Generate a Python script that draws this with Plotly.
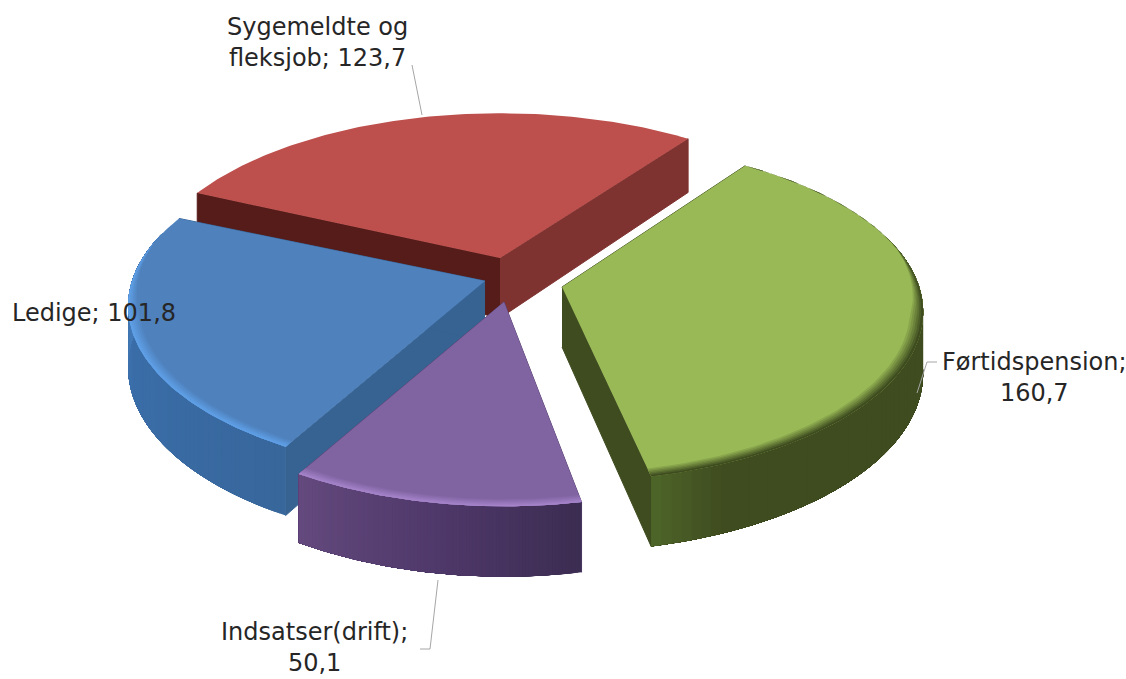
import numpy as np
import plotly.graph_objects as go

categories = ["Sygemeldte og fleksjob", "Førtidspension", "Indsatser(drift)", "Ledige"]
values = [123.7, 160.7, 50.1, 101.8]
label_texts = ["Sygemeldte og<br>fleksjob; 123,7", "Førtidspension;<br>160,7",
               "Indsatser(drift);<br>50,1", "Ledige; 101,8"]

# --- styling / geometry of the tilted, exploded pie ---
FIRST_ANGLE = -65.5      # degrees clockwise from the back of the pie
R_X, R_Y, PERSP, DEPTH = 353, 166, 0.147, 60
centres = [(500, 258), (562, 287), (504, 302), (485, 281)]
nudge_deg = [0, -1.5, 0, -1.0]
scale_x = [1, 1.012, 1, 1]
scale_y = [1, 1, 1.05, 1]
top_col = ["#bd4f4c", "#98b956", "#8064a2", "#4f81bd"]
wall_stops = [
    [(0, "#7f3331"), (1, "#7f3331")],
    [(0, "#3f4c20"), (0.92, "#3f4c20"), (1, "#4f6629")],
    [(0, "#3c2d52"), (0.5, "#50396b"), (1, "#644a7e")],
    [(0, "#38679c"), (0.5, "#3b6ea9"), (0.9, "#4a83c4"), (1, "#4a83c4")],
]
wall_s = ["#7f3331", "#3f4c20", "#5a4272", "#376392"]
wall_e = ["#561c1a", "#3f4c20", "#5a4272", "#376392"]
rim_col = ["#bd4f4c", "#3f4c20", "#a583c9", "#5f9fe6"]
rim_w = [0.0, 0.036, 0.03, 0.03]


def proj(i, r, t):
    r, t = np.asarray(r, float), np.asarray(t, float)
    u, v = r * np.sin(t), r * np.cos(t)
    w = 1 + PERSP * v
    c = centres[i]
    return c[0] + scale_x[i] * R_X * u / w, c[1] - scale_y[i] * R_Y * v / w, w


def hexrgb(h):
    return np.array([int(h[i:i + 2], 16) for i in (1, 3, 5)], float)


def mix(a, b, f):
    return "rgb(%d,%d,%d)" % tuple(hexrgb(a) * (1 - f) + hexrgb(b) * f)


def stop_colour(stops, f):
    for (f0, c0), (f1, c1) in zip(stops, stops[1:]):
        if f <= f1:
            return mix(c0, c1, (f - f0) / (f1 - f0) if f1 > f0 else 0)
    return stops[-1][1]


fig = go.Figure()


def poly(x, y, col, lw=0):
    fig.add_trace(go.Scatter(x=list(x), y=list(y), mode="lines", fill="toself", fillcolor=col,
                             line=dict(width=lw, color=col), hoverinfo="skip", showlegend=False))


edges = np.radians(FIRST_ANGLE + np.cumsum([0] + values) / sum(values) * 360)
for i in [0, 3, 1, 2]:
    c = centres[i]
    a0, a1 = edges[i] + np.radians(nudge_deg[i]), edges[i + 1] + np.radians(nudge_deg[i])
    # straight cut walls
    rr = np.linspace(0, 1, 2)
    for ang, col in ((a0, wall_e[i]), (a1, wall_s[i])):
        x, y, w = proj(i, rr, np.full(2, ang))
        poly(np.r_[x, x[::-1]], np.r_[y, (y + DEPTH / w)[::-1]], col, lw=1)
    # outer wall of the front half: each band reaches to the far end and the next paints over it
    n = 90
    seg = np.linspace(a0, a1, n + 1)
    for j in range(n):
        t = np.linspace(seg[j], a1, 60)
        t = t[np.cos(t) < 0.3]
        if len(t) < 2:
            continue
        x, y, w = proj(i, np.ones(len(t)), t)
        poly(np.r_[x, x[::-1]], np.r_[y, (y + DEPTH / w)[::-1]], stop_colour(wall_stops[i], (j + .5) / n))
    # top face
    t = np.linspace(a0, a1, 120)
    x, y, _ = proj(i, np.ones(120), t)
    poly(np.r_[c[0], x, c[0]], np.r_[c[1], y, c[1]], top_col[i])
    # soft bevel along the front of the rim, tapering out towards the back
    if rim_w[i] > 0:
        taper = np.clip((-np.cos(t) + 0.25) / 0.45, 0, 1)
        for k in range(6):
            s = 1 - k / 6
            xi, yi, _ = proj(i, 1 - rim_w[i] * s * taper, t)
            poly(np.r_[x, xi[::-1]], np.r_[y, yi[::-1]], mix(top_col[i], rim_col[i], (k + 1) / 6))

# leader lines
leaders = [([412, 422], [65, 115]), ([937, 927, 917], [362, 362, 393]), ([420, 430, 438], [649, 649, 580])]
for lx, ly in leaders:
    fig.add_trace(go.Scatter(x=lx, y=ly, mode="lines", line=dict(color="#a6a6a6", width=1),
                             hoverinfo="skip", showlegend=False))

label_pos = [(317, 42), (1034, 377), (314, 647), (94, 313)]
for text, (lx, ly) in zip(label_texts, label_pos):
    fig.add_annotation(x=lx, y=ly, text=text, showarrow=False, xanchor="center", yanchor="middle",
                       font=dict(family="DejaVu Sans", size=24, color="#262626"))

fig.update_layout(width=1126, height=679, margin=dict(l=0, r=0, t=0, b=0),
                  paper_bgcolor="white", plot_bgcolor="white",
                  xaxis=dict(range=[0, 1126], visible=False, fixedrange=True),
                  yaxis=dict(range=[679, 0], visible=False, fixedrange=True))
fig.write_html("out.html", post_script="document.body.style.margin='0';",
               config=dict(displayModeBar=False))
